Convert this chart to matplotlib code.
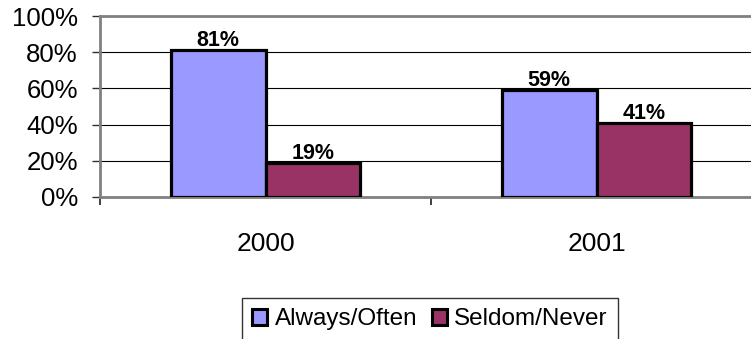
import matplotlib
matplotlib.use("Agg")
import matplotlib.pyplot as plt
from matplotlib.patches import Patch
import numpy as np

categories = ["2000", "2001"]
series_names = ["Always/Often", "Seldom/Never"]
always_often = [81, 59]
seldom_never = [19, 41]
yticks = [0, 20, 40, 60, 80, 100]

colors = ["#9999FF", "#993366"]
FONT = "Liberation Sans"

W, H = 751, 339
fig = plt.figure(figsize=(W / 100, H / 100), dpi=100)
# plot area spans past the right image edge
ax = fig.add_axes([100 / W, 1 - 197 / H, 662 / W, 181 / H])

x = np.arange(len(categories))
bw = 1 / 3.5
for i, (vals, col) in enumerate(zip([always_often, seldom_never], colors)):
    pos = x + (i - 0.5) * bw
    ax.bar(pos, vals, width=bw, color=col, edgecolor="black", linewidth=2.3, zorder=3)
    for p, v in zip(pos, vals):
        ax.text(p, v + 2.2, f"{v}%", ha="center", va="baseline",
                fontsize=15.5, fontweight="bold", family=FONT, zorder=4)

ax.set_xlim(-0.5, len(categories) - 0.5)
ax.set_ylim(0, 100)
ax.set_yticks(yticks)
ax.set_yticklabels([f"{t}%" for t in yticks], fontsize=18.5, family=FONT)
for t in yticks[1:-1]:
    ax.axhline(t, color="black", linewidth=0.8, zorder=1)

ax.set_xticks(x)
ax.set_xticklabels(categories, fontsize=19, family=FONT)
ax.tick_params(axis="x", length=0, pad=25)
ax.tick_params(axis="y", length=6, width=1, color="#303030", pad=10)
# category boundary ticks on the x axis
ax.set_xticks(np.arange(len(categories) + 1) - 0.5, minor=True)
ax.tick_params(axis="x", which="minor", length=6, width=1.2, color="#202020")

for side in ["left", "top", "bottom"]:
    ax.spines[side].set_color("#808080")
    ax.spines[side].set_linewidth(2)
ax.spines["right"].set_visible(False)

handles = [Patch(facecolor=c, edgecolor="black", linewidth=2.2) for c in colors]
leg = fig.legend(handles, series_names, loc="upper center",
                 bbox_to_anchor=(430 / W, 1 - 298 / H),
                 ncol=2, frameon=True, fancybox=False, edgecolor="black",
                 prop={"family": FONT, "size": 17.5},
                 handlelength=0.62, handleheight=0.62, handletextpad=0.3,
                 columnspacing=0.6, borderpad=0.42, borderaxespad=0)
leg.get_frame().set_linewidth(1)

fig.savefig("out.png", dpi=100)
